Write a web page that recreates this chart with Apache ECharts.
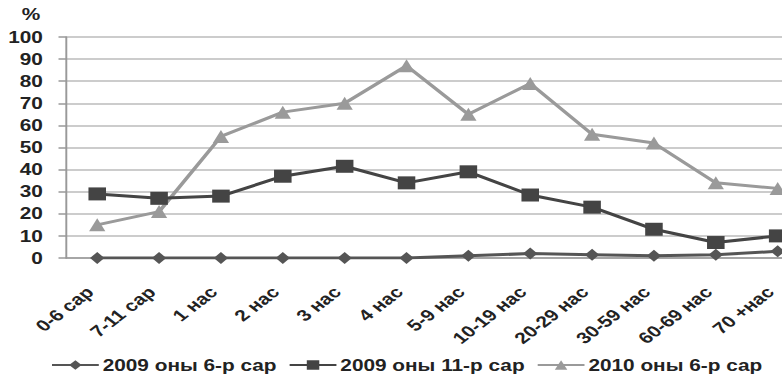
<!DOCTYPE html>
<html><head><meta charset="utf-8">
<script src="https://cdn.jsdelivr.net/npm/echarts@6/dist/echarts.min.js"></script>
<style>
html,body{margin:0;padding:0;background:#fff;overflow:hidden}
#wrap{width:782px;height:379px;overflow:hidden}
#c{width:601.5px;height:379px;transform:scaleX(1.3);transform-origin:0 0}
</style>
</head><body><div id="wrap"><div id="c"></div></div>
<script>
var categories = ['0-6 сар','7-11 сар','1 нас','2 нас','3 нас','4 нас','5-9 нас','10-19 нас','20-29 нас','30-59 нас','60-69 нас','70 +нас'];
var seriesNames = ['2009 оны 6-р сар','2009 оны 11-р сар','2010 оны 6-р сар'];
var s2009_6 = [0,0,0,0,0,0,1,2,1.5,1,1.5,3];
var s2009_11 = [29,27,28,37,41.5,34,39,28.5,23,13,7,10];
var s2010_6 = [15,21,55,66,70,87,65,79,56,52,34,31.5];
var yTicks = {min:0, max:100, interval:10};

var chart = echarts.init(document.getElementById('c'), null, {renderer:'svg'});
var font = 'Liberation Sans, Arial, sans-serif';
chart.setOption({
  animation:false,
  grid:{left:51, width:571, top:37, bottom:121, outerBoundsMode:'none', containLabel:false},
  legend:{
    top:352, left:34, width:640, itemWidth:36, itemHeight:12, itemGap:9,
    textStyle:{fontFamily:font, fontSize:16, fontWeight:'bold', color:'#222', padding:[0,0,0,-2]},
    data:seriesNames
  },
  xAxis:{
    type:'category', data:categories, boundaryGap:true,
    axisLine:{show:true, lineStyle:{color:'#999', width:1.5}},
    axisTick:{show:false},
    axisLabel:{rotate:45, interval:0, fontFamily:font, fontSize:16, fontWeight:'bold', color:'#222',
      margin:37, align:'right', verticalAlign:'bottom'}
  },
  yAxis:{
    type:'value', min:yTicks.min, max:yTicks.max, interval:yTicks.interval,
    name:'%', nameLocation:'end', nameGap:15,
    nameTextStyle:{fontFamily:font, fontSize:16, fontWeight:'bold', color:'#222', align:'right', padding:[0,20,0,0]},
    axisLine:{show:true, lineStyle:{color:'#999', width:1.5}},
    axisTick:{show:true, length:6, lineStyle:{color:'#999', width:1.5}},
    axisLabel:{fontFamily:font, fontSize:16, fontWeight:'bold', color:'#222', margin:18},
    splitLine:{lineStyle:{color:'#bbb', width:1.5}}
  },
  series:[
    {name:seriesNames[0], type:'line', data:s2009_6, symbol:'diamond', symbolSize:[11,12],
     lineStyle:{color:'#555', width:3}, itemStyle:{color:'#555'}, z:4},
    {name:seriesNames[1], type:'line', data:s2009_11, symbol:'rect', symbolSize:[13.5,13],
     lineStyle:{color:'#444', width:3}, itemStyle:{color:'#444'}, z:3},
    {name:seriesNames[2], type:'line', data:s2010_6, symbol:'triangle', symbolSize:[12.5,13],
     lineStyle:{color:'#9a9a9a', width:3}, itemStyle:{color:'#9a9a9a'}, z:2}
  ]
});
</script></body></html>
